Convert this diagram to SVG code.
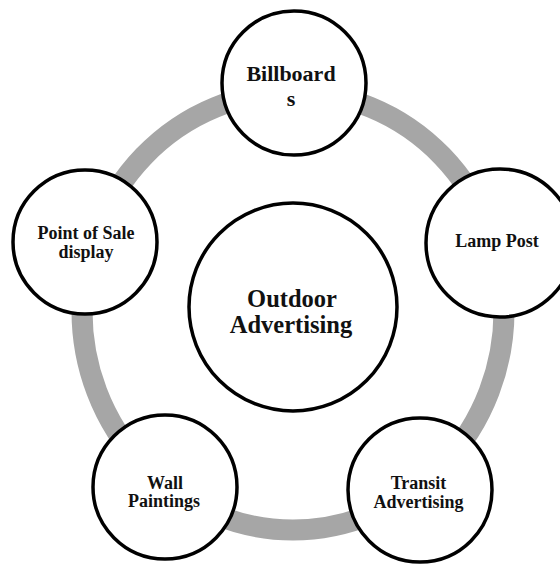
<svg xmlns="http://www.w3.org/2000/svg" width="560" height="566" viewBox="0 0 560 566">
  <style>
    .node { fill: #ffffff; stroke: #000000; stroke-width: 3.5; }
    .ring { fill: none; stroke: #a6a6a6; stroke-width: 21; }
    text { font-family: "Liberation Serif", "Times New Roman", serif; font-weight: bold; fill: #111111; text-anchor: middle; }
    .s18 { font-size: 18px; }
    .s22 { font-size: 22px; }
    .s25 { font-size: 24.5px; }
  </style>
  <rect width="560" height="566" fill="#ffffff"/>

  <!-- grey cycle linking the outer nodes -->
  <g id="connectors">
    <ellipse class="ring" cx="293" cy="311" rx="211" ry="219"/>
  </g>

  <g id="center">
    <circle class="node" cx="293" cy="307" r="104"/>
    <text class="s25" x="292" y="307">Outdoor</text>
    <text class="s25" x="291" y="333">Advertising</text>
  </g>

  <g id="billboards">
    <circle class="node" cx="294" cy="83" r="72"/>
    <text class="s22" x="291" y="81">Billboard</text>
    <text class="s22" x="291" y="106">s</text>
  </g>

  <g id="lamp-post">
    <circle class="node" cx="500" cy="243" r="74"/>
    <text class="s18" x="497" y="247">Lamp Post</text>
  </g>

  <g id="transit">
    <circle class="node" cx="420" cy="490" r="72"/>
    <text class="s18" x="418.5" y="488.5">Transit</text>
    <text class="s18" x="418.5" y="507.5">Advertising</text>
  </g>

  <g id="wall-paintings">
    <circle class="node" cx="165" cy="487" r="72"/>
    <text class="s18" x="165" y="488.5">Wall</text>
    <text class="s18" x="164" y="507">Paintings</text>
  </g>

  <g id="point-of-sale">
    <circle class="node" cx="85" cy="242" r="72"/>
    <text class="s18" x="86" y="238.5">Point of Sale</text>
    <text class="s18" x="86" y="257.5">display</text>
  </g>
</svg>
